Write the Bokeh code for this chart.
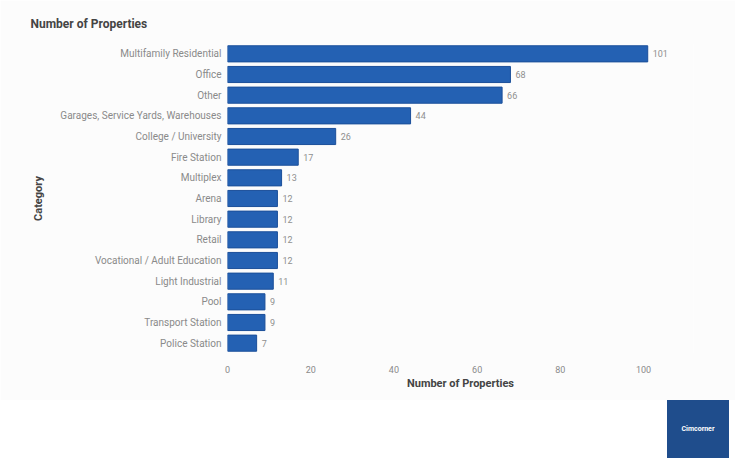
from bokeh.plotting import figure
from bokeh.models import ColumnDataSource, Range1d, FixedTicker, Div
from bokeh.layouts import column
from bokeh.core.properties import value
from bokeh.embed import file_html
from bokeh.resources import INLINE

categories = ["Multifamily Residential", "Office", "Other", "Garages, Service Yards, Warehouses",
              "College / University", "Fire Station", "Multiplex", "Arena", "Library", "Retail",
              "Vocational / Adult Education", "Light Industrial", "Pool", "Transport Station",
              "Police Station"]
counts = [101, 68, 66, 44, 26, 17, 13, 12, 12, 12, 12, 11, 9, 9, 7]
x_ticks = [0, 20, 40, 60, 80, 100]

FONT = "Roboto"
BG = "#fcfcfc"

src = ColumnDataSource(dict(cat=categories, n=counts, lab=[str(v) for v in counts]))

p = figure(width=735, height=400, y_range=list(reversed(categories)),
           x_range=Range1d(0, 112), output_backend="svg", toolbar_location=None,
           min_border_left=227, min_border_right=42, min_border_top=43, min_border_bottom=47,
           title="Number of Properties")
p.background_fill_color = BG
p.border_fill_color = BG
p.outline_line_color = None
p.y_range.range_padding = 0

p.title.align = "left"
p.title.offset = -197
p.title.standoff = 26
p.title.text_font = FONT
p.title.text_font_size = "12px"
p.title.text_font_style = "bold"
p.title.text_color = "#444444"

p.hbar(y="cat", right="n", left=0, height=0.78, source=src,
       fill_color="#2461b3", line_color="#1b4f9a", line_width=1)
p.text(x="n", y="cat", text="lab", source=src, x_offset=5,
       text_baseline="middle", text_font=value(FONT), text_font_size="9px", text_color="#8f8f8f")

p.xgrid.grid_line_color = None
p.ygrid.grid_line_color = None

for ax in (p.xaxis[0], p.yaxis[0]):
    ax.axis_line_color = None
    ax.major_tick_line_color = None
    ax.minor_tick_line_color = None
    ax.major_label_text_font = FONT
    ax.major_label_text_color = "#8a8a8a"
    ax.axis_label_text_font = FONT
    ax.axis_label_text_font_size = "11px"
    ax.axis_label_text_font_style = "bold"
    ax.axis_label_text_color = "#444444"

p.xaxis.ticker = FixedTicker(ticks=x_ticks)
p.xaxis.major_label_text_font_size = "9px"
p.xaxis.axis_label = "Number of Properties"
p.xaxis.major_label_standoff = 6
p.xaxis.axis_label_standoff = 1
p.yaxis.major_label_text_font_size = "10px"
p.yaxis.axis_label = "Category"
p.yaxis.major_label_standoff = 0
p.yaxis.axis_label_standoff = 12

logo = Div(width=735, height=58,
           text=('<div style="position:relative;left:662px;top:-5px;width:62px;height:58px;'
                 'background:#1f4d8c;color:#ffffff;font:bold 7px Roboto;display:flex;'
                 'align-items:center;justify-content:center;">Cimcorner</div>'))

layout = column(p, logo, spacing=0)
open("out.html", "w").write(file_html(layout, INLINE))
